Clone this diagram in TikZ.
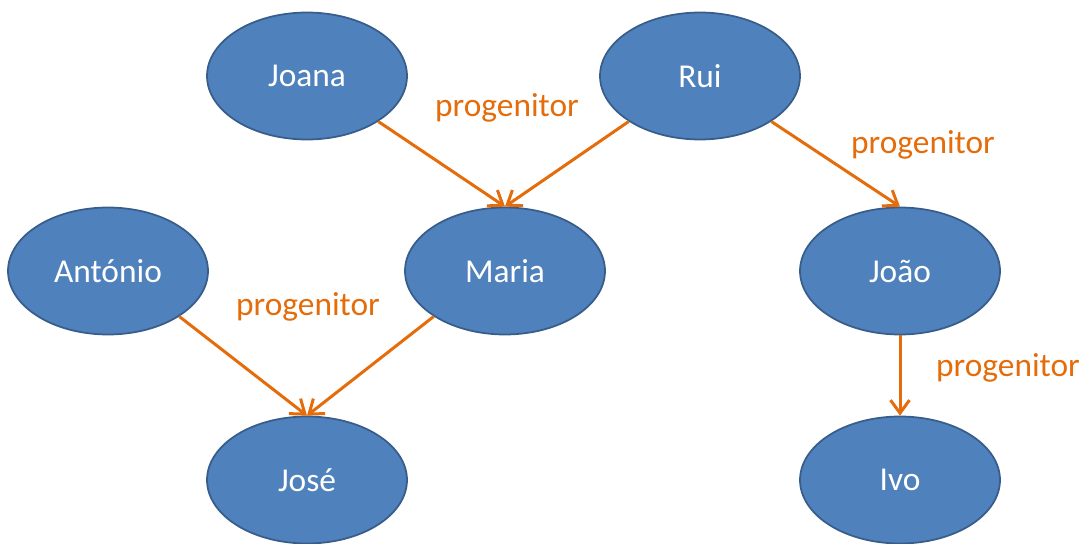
\documentclass[tikz,border=0pt]{standalone}
\usepackage{fontspec}
\setmainfont{Carlito}
\usetikzlibrary{positioning,shapes.geometric,arrows.meta}
\definecolor{personcol}{HTML}{4F81BD}
\definecolor{personline}{HTML}{385D8A}
\definecolor{relcol}{HTML}{E46C0A}

\begin{document}
\begin{tikzpicture}[
  x=0.02cm, y=-0.02cm,
  every node/.style={font=\fontsize{19}{23}\selectfont},
  person/.style={ellipse, draw=personline, line width=1pt, fill=personcol, text=white, inner sep=0pt, minimum width=4cm, minimum height=2.54cm},
  rel/.style={text=relcol},
  arr/.style={-{Straight Barb[length=2.6mm, width=3.8mm]}, line width=1.7pt, relcol}
]
\useasboundingbox (0,0) rectangle (1089,544);

% ---------------- people ----------------
\node[person] (joana) at (307,76) {Joana};
\node[person] (rui) at (700,76) {Rui};
\node[person] (antonio) at (108,271) {António};
\node[person] (maria) at (505,271) {Maria};
\node[person] (joao) at (900,271) {João};
\node[person] (jose) at (307,480) {José};
\node[person] (ivo) at (900,480) {Ivo};

% ---------------- labels ----------------
\node[rel] (lmaria) at (507,108) {progenitor};
\node[rel] (ljoao) at (923,145) {progenitor};
\node[rel] (ljose) at (308,307) {progenitor};
\node[rel] (livo) at (1008,368) {progenitor};

% ---------------- arrows ----------------
\draw[arr] (joana.south east) -- (maria.north);
\draw[arr] (rui.south west) -- (maria.north);
\draw[arr] (rui.south east) -- (joao.north);
\draw[arr] (antonio.south east) -- (jose.north);
\draw[arr] (maria.south west) -- (jose.north);
\draw[arr] (joao.south) -- (ivo.north);

\end{tikzpicture}
\end{document}
